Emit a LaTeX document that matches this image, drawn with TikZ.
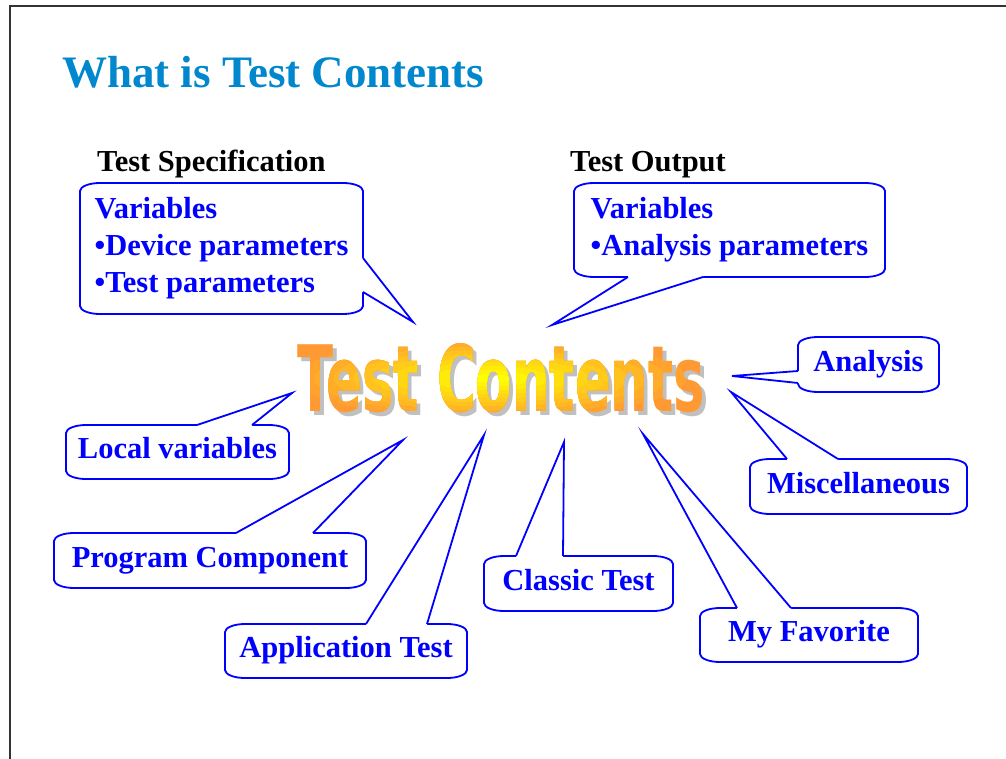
\documentclass[tikz,border=0pt]{standalone}
\usepackage{fontspec}
\setmainfont{Liberation Serif}
\newfontfamily\artfont{DejaVu Sans}
\usetikzlibrary{positioning}
\definecolor{titleblue}{RGB}{0,135,205}
\definecolor{calloutblue}{RGB}{0,0,255}
\definecolor{artorange}{RGB}{255,153,51}
\definecolor{artyellow}{RGB}{255,255,0}
\definecolor{artshadow}{RGB}{192,192,192}
\newcommand{\artword}{\resizebox{408pt}{68pt}{\artfont\bfseries Test Contents}}
% frame of a callout with flat rounded corners
\newcommand{\bubbleframe}[1]{%
  \draw[ptr] ([xshift=20pt]#1.north west) -- ([xshift=-20pt]#1.north east)
    arc[start angle=90,end angle=0,x radius=20pt,y radius=8pt] -- ([yshift=8pt]#1.south east)
    arc[start angle=0,end angle=-90,x radius=20pt,y radius=8pt] -- ([xshift=20pt]#1.south west)
    arc[start angle=270,end angle=180,x radius=20pt,y radius=8pt] -- ([yshift=-8pt]#1.north west)
    arc[start angle=180,end angle=90,x radius=20pt,y radius=8pt] -- cycle;
}
% pointer of a callout: node corner, shift key, inward shift, base from, base to, tip
\newcommand{\calloutptr}[6]{%
  \fill[white] ([#2=#4pt,#3]#1) -- ([#2=#4pt]#1) -- (#6) -- ([#2=#5pt]#1) -- ([#2=#5pt,#3]#1) -- cycle;
  \draw[ptr] ([#2=#4pt]#1) -- (#6) -- ([#2=#5pt]#1);
}

\begin{document}
\begin{tikzpicture}[x=1pt,y=1pt,
    bubble/.style={rectangle,outer sep=0pt,inner sep=0pt,align=left,text=calloutblue,
      font=\fontsize{30.5pt}{37pt}\selectfont\bfseries},
    tag/.style={bubble,align=center,text height=20pt,text depth=7pt},
    head/.style={font=\fontsize{30.5pt}{37pt}\selectfont\bfseries,inner sep=0pt,anchor=base west},
    ptr/.style={draw=calloutblue,line width=1.8pt},
    wordart/.style={inner sep=0pt,anchor=south west}
  ]
    \useasboundingbox (0,0) rectangle (1006,-759);
    \draw[line width=1.2pt,black!80] (10,-759) -- (10,-6) -- (1006,-6);

    \node[font=\fontsize{45pt}{50pt}\selectfont\bfseries,text=titleblue,inner sep=0pt,anchor=base west] (title) at (62,-88) {What is Test Contents};

    \node[head] (spechead) at (97,-172) {Test Specification};
    \node[head] (outhead) at (570,-172) {Test Output};

    \node[bubble,minimum width=283pt,minimum height=131pt] (spec) at (221.5,-248.5) {Variables\\•Device parameters\\•Test parameters};
    \node[bubble,minimum width=311pt,minimum height=94pt] (output) at (729.5,-230) {Variables\\•Analysis parameters};
    \node[tag,minimum width=141pt,minimum height=55pt] (analysis) at (868.5,-364.5) {Analysis};
    \node[tag,minimum width=217pt,minimum height=55pt] (misc) at (858.5,-486.5) {Miscellaneous};
    \node[tag,minimum width=223pt,minimum height=54pt] (local) at (177.5,-452) {Local variables};
    \node[tag,minimum width=312pt,minimum height=55pt] (program) at (210,-560.5) {Program Component};
    \node[tag,minimum width=242pt,minimum height=54pt] (application) at (346,-651) {Application Test};
    \node[tag,minimum width=189pt,minimum height=55pt] (classic) at (578.5,-583.5) {Classic Test};
    \node[tag,minimum width=218pt,minimum height=54pt] (favorite) at (809,-635) {My Favorite};

    \foreach \b in {spec,output,analysis,misc,local,program,application,classic,favorite}
      {\bubbleframe{\b}}

    % pointer tips
    \coordinate (tspec) at (413,-322);
    \coordinate (toutput) at (552,-325);
    \coordinate (tanalysis) at (732,-376);
    \coordinate (tmisc) at (731,-392);
    \coordinate (tlocal) at (292,-393);
    \coordinate (tprogram) at (403,-440);
    \coordinate (tapplication) at (484,-435);
    \coordinate (tclassic) at (564,-442);
    \coordinate (tfavorite) at (643,-434);

    \calloutptr{spec.north east}{yshift}{xshift=-3pt}{-75}{-109}{tspec}
    \calloutptr{output.south west}{xshift}{yshift=3pt}{54}{129}{toutput}
    \calloutptr{analysis.north west}{yshift}{xshift=3pt}{-34}{-46}{tanalysis}
    \calloutptr{misc.north west}{xshift}{yshift=-3pt}{37}{88}{tmisc}
    \calloutptr{local.north west}{xshift}{yshift=-3pt}{131}{186}{tlocal}
    \calloutptr{program.north west}{xshift}{yshift=-3pt}{182}{259}{tprogram}
    \calloutptr{application.north west}{xshift}{yshift=-3pt}{141}{202}{tapplication}
    \calloutptr{classic.north west}{xshift}{yshift=-3pt}{32}{79}{tclassic}
    \calloutptr{favorite.north west}{xshift}{yshift=-3pt}{37}{91}{tfavorite}

    % word art with shadow and radial colour steps
    \node[wordart,text=artshadow] (artback) at (301,-417) {\artword};
    \node[wordart,text=artorange] (art) at (297,-413) {\artword};
    \foreach \k in {1,...,10}{
      \begin{scope}
        \clip (490,-378) ellipse [x radius={215-19.5*\k}, y radius={44-4*\k}];
        \pgfmathtruncatemacro{\mix}{10*\k}
        \node[wordart,text=artyellow!\mix!artorange] (art\k) at (297,-413) {\artword};
      \end{scope}
    }
  \end{tikzpicture}
\end{document}
